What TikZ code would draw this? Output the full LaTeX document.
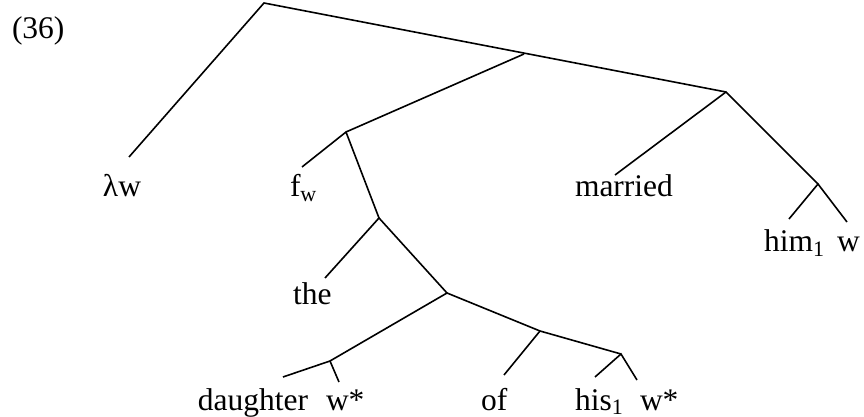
\documentclass[tikz,border=0pt]{standalone}
\usepackage{fontspec}
\setmainfont{Liberation Serif}
\begin{document}
\begin{tikzpicture}[x=0.5pt,y=-0.5pt,
  br/.style={line width=0.8pt},
  lab/.style={anchor=base west,inner sep=0pt,outer sep=0pt,font=\fontsize{15.75}{18}\selectfont}]
\useasboundingbox (0,0) rectangle (864,417);
% branch points
\coordinate (R) at (264,3);
\coordinate (A) at (524,54);
\coordinate (B) at (726,92);
\coordinate (C) at (346,132);
\coordinate (D) at (379,218);
\coordinate (E) at (447,293);
\coordinate (F) at (540,331);
\coordinate (G) at (621,354);
\coordinate (H) at (330,361);
\coordinate (I) at (818,184);
% leaf ends
\coordinate (lamE) at (129,157);
\coordinate (fwE) at (302,167);
\coordinate (theE) at (325,278);
\coordinate (dauE) at (283,377);
\coordinate (ws1E) at (339,382);
\coordinate (ofE) at (504,375);
\coordinate (hisE) at (595,377);
\coordinate (ws2E) at (637,380);
\coordinate (marE) at (615,175);
\coordinate (himE) at (789,219);
\coordinate (wE) at (847,222);
% labels
\node[lab] (ex) at (12,39) {(36)};
\node[lab] (lam) at (103,197) {λw};
\node[lab] (fw) at (290,197) {f\textsubscript{w}};
\node[lab] (mar) at (575,197) {married};
\node[lab] (him) at (764,252) {him\textsubscript{1}};
\node[lab] (w) at (837,252) {w};
\node[lab] (the) at (293,305) {the};
\node[lab] (dau) at (198,410) {daughter};
\node[lab] (ws1) at (326,410) {w*};
\node[lab] (of) at (481,410) {of};
\node[lab] (his) at (575,410) {his\textsubscript{1}};
\node[lab] (ws2) at (640,410) {w*};
% branches
\draw[br] (lamE) -- (R) -- (B);
\draw[br] (A) -- (C);
\draw[br] (fwE) -- (C) -- (D);
\draw[br] (theE) -- (D) -- (E);
\draw[br] (dauE) -- (H) -- (E) -- (F) -- (G);
\draw[br] (H) -- (ws1E);
\draw[br] (F) -- (ofE);
\draw[br] (hisE) -- (G) -- (ws2E);
\draw[br] (marE) -- (B) -- (I);
\draw[br] (himE) -- (I) -- (wE);
\end{tikzpicture}
\end{document}
